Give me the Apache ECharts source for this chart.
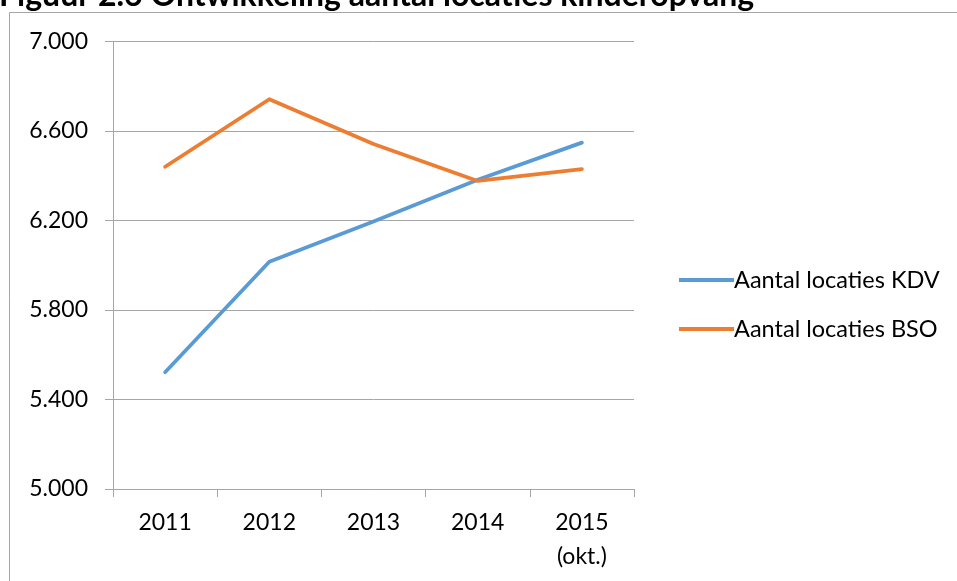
<!DOCTYPE html>
<html>
<head>
<meta charset="utf-8">
<script src="https://cdn.jsdelivr.net/npm/echarts@6/dist/echarts.min.js"></script>
<style>
  html, body { margin: 0; padding: 0; background: #fff; }
  #chart { width: 957px; height: 581px; }
</style>
</head>
<body>
<div id="chart"></div>
<script>
const TITLE = 'Figuur 2.6 Ontwikkeling aantal locaties kinderopvang'
const years = ['2011', '2012', '2013', '2014', '2015\n(okt.)']
const kdv = [5522, 6016, 6195, 6382, 6548]
const bso = [6440, 6742, 6542, 6377, 6430]
const seriesNames = ['Aantal locaties KDV', 'Aantal locaties BSO']

const FONT = 'Lato'
const GRAY = '#a6a6a6'

// 7000 -> "7.000"
function dutchThousands(v) {
  const s = String(Math.round(v))
  return s.replace(/\B(?=(\d{3})+(?!\d))/g, '.')
}

const chart = echarts.init(document.getElementById('chart'))

chart.setOption({
  animation: false,
  textStyle: { fontFamily: FONT, color: '#000' },
  title: {
    text: TITLE,
    left: -1,
    top: -20,
    padding: 0,
    textStyle: { fontFamily: FONT, fontSize: 32, fontWeight: 'bold', color: '#000' }
  },
  graphic: [{
    type: 'rect',
    shape: { x: 9.5, y: 12.5, width: 1000, height: 700 },
    style: { fill: 'none', stroke: GRAY, lineWidth: 1 },
    silent: true,
    z: -1
  }],
  grid: { left: 113, right: 323, top: 41.5, bottom: 92 },
  legend: {
    orient: 'vertical',
    left: 674,
    top: 261,
    icon: 'rect',
    itemWidth: 55,
    itemHeight: 4,
    itemGap: 21,
    textStyle: { fontFamily: FONT, fontSize: 23.5, lineHeight: 28, color: '#000', padding: [0, 0, 0, -5] },
    data: seriesNames
  },
  xAxis: {
    type: 'category',
    data: years,
    boundaryGap: true,
    axisLine: { lineStyle: { color: GRAY, width: 1 } },
    axisTick: { show: true, length: 8, lineStyle: { color: GRAY } },
    axisLabel: { fontFamily: FONT, fontSize: 23, color: '#000', margin: 17, lineHeight: 34 }
  },
  yAxis: {
    type: 'value',
    min: 5000,
    max: 7000,
    interval: 400,
    axisLine: { show: true, lineStyle: { color: GRAY, width: 1 } },
    axisTick: { show: true, length: 8, lineStyle: { color: GRAY } },
    splitLine: { lineStyle: { color: GRAY, width: 1 } },
    axisLabel: { fontFamily: FONT, fontSize: 23, color: '#000', margin: 25, formatter: dutchThousands }
  },
  series: [
    {
      name: seriesNames[0],
      type: 'line',
      data: kdv,
      symbol: 'none',
      lineStyle: { color: '#5b9bd5', width: 3.75, cap: 'round', join: 'round' },
      itemStyle: { color: '#5b9bd5' }
    },
    {
      name: seriesNames[1],
      type: 'line',
      data: bso,
      symbol: 'none',
      lineStyle: { color: '#ed7d31', width: 3.75, cap: 'round', join: 'round' },
      itemStyle: { color: '#ed7d31' }
    }
  ]
})
</script>
</body>
</html>
